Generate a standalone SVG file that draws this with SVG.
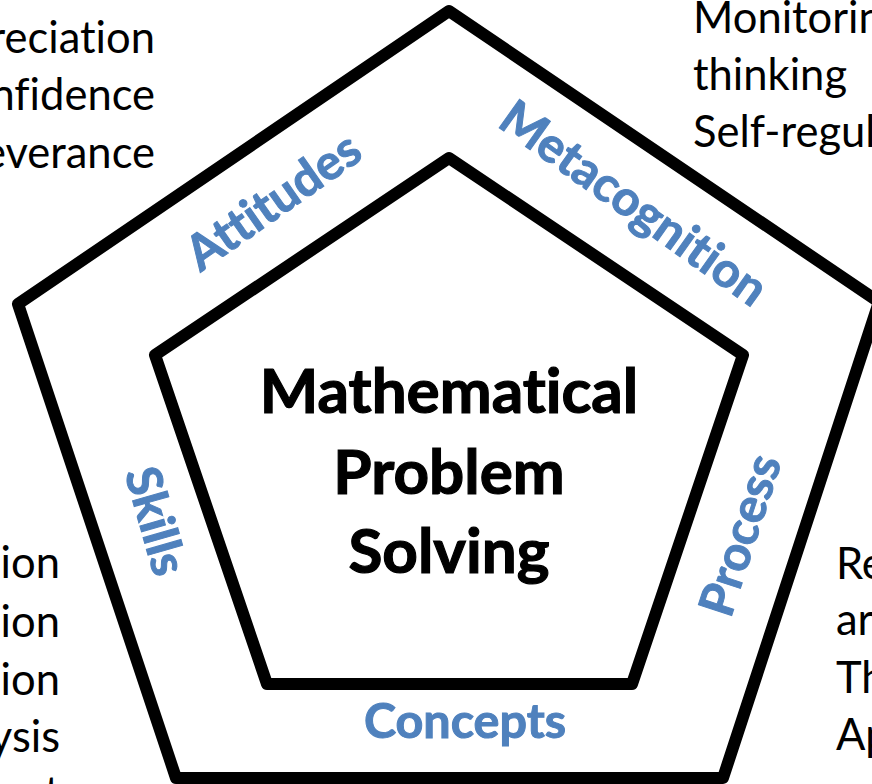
<svg xmlns="http://www.w3.org/2000/svg" width="872" height="784" viewBox="0 0 872 784">
  <style>
    text { font-variant-ligatures: none; font-feature-settings: "liga" 0, "clig" 0; }
    .frame { fill: none; stroke: #000; stroke-width: 12; stroke-linejoin: round; }
    .side { font-family: Lato, "Open Sans", "Liberation Sans", sans-serif; font-size: 43.5px; fill: #000; }
    .label { font-family: Lato, "Open Sans", "Liberation Sans", sans-serif; font-weight: bold; font-size: 48.5px; fill: #4F81BD; stroke: #4F81BD; stroke-width: 1; text-anchor: middle; }
    .title { font-family: Lato, "Open Sans", "Liberation Sans", sans-serif; font-weight: bold; font-size: 62px; fill: #000; stroke: #000; stroke-width: 1.2; text-anchor: middle; }
  </style>
  <rect width="872" height="784" fill="#fff"/>

  <!-- outer and inner pentagons -->
  <g id="connectors">
    <polygon id="outer-ring" class="frame" points="449,11 879,302 723,778 176,778 18,304"/>
  </g>
  <g id="core">
    <polygon class="frame" points="449,158 743,355 632,684 267,684 155,355"/>
    <text class="title" x="449" y="413">Mathematical</text>
    <text class="title" x="449" y="494">Problem</text>
    <text class="title" x="449" y="573">Solving</text>
  </g>

  <!-- ring labels along each side -->
  <g id="attitudes">
    <text class="label" transform="translate(273,201) rotate(-35)" y="17">Attitudes</text>
    <g class="side" text-anchor="end">
      <text x="155" y="53">reciation</text>
      <text x="155" y="110">nfidence</text>
      <text x="155" y="168">everance</text>
    </g>
  </g>
  <g id="metacognition">
    <text class="label" transform="translate(634,203) rotate(35.5)" y="17">Metacognition</text>
    <g class="side">
      <text x="693" y="33">Monitorin</text>
      <text x="693" y="90">thinking</text>
      <text x="693" y="147">Self-regul</text>
    </g>
  </g>
  <g id="process">
    <text class="label" transform="translate(740,535) rotate(-72)" y="17">Process</text>
    <g class="side">
      <text x="836" y="579">Re</text>
      <text x="836" y="635">ar</text>
      <text x="836" y="693">Th</text>
      <text x="836" y="750">Ap</text>
    </g>
  </g>
  <g id="concepts">
    <text class="label" x="465" y="738">Concepts</text>
  </g>
  <g id="skills">
    <text class="label" transform="translate(156,521) rotate(74)" y="17">Skills</text>
    <g class="side" text-anchor="end">
      <text x="60" y="578">ion</text>
      <text x="60" y="637">ion</text>
      <text x="60" y="695">ion</text>
      <text x="60" y="752">ysis</text>
      <text x="60" y="808">t</text>
    </g>
  </g>
</svg>
